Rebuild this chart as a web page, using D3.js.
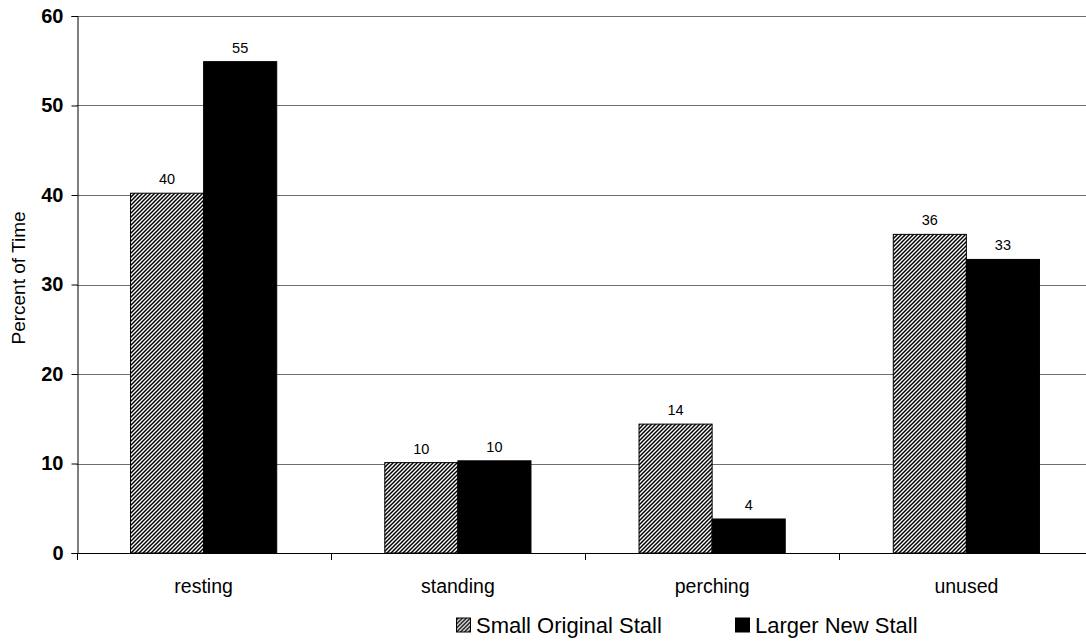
<!DOCTYPE html>
<html>
<head>
<meta charset="utf-8">
<script src="https://cdn.jsdelivr.net/npm/d3@7"></script>
<style>
  html, body { margin: 0; padding: 0; background: #fff; }
  svg { display: block; font-family: "Liberation Sans", Arial, sans-serif; }
</style>
</head>
<body>
<svg id="chart" width="1086" height="641"></svg>
<script>
// Time budget per stall behaviour
const categories = ["resting", "standing", "perching", "unused"];
const seriesNames = ["Small Original Stall", "Larger New Stall"];
const smallStall = [40.2, 10.1, 14.4, 35.6];
const largerStall = [54.9, 10.3, 3.8, 32.8];
const yTicks = [0, 10, 20, 30, 40, 50, 60];

const svg = d3.select("#chart");
const margin = { left: 76.5, top: 16, right: -7.5, bottom: 88 };
const W = 1086, H = 641;
const x0 = margin.left, x1 = W - margin.right;
const yTop = margin.top, yBot = H - margin.bottom;

// fine "/" hatch for the first series, 4px horizontal period
const defs = svg.append("defs");
const pat = defs.append("pattern")
  .attr("id", "hatch")
  .attr("patternUnits", "userSpaceOnUse")
  .attr("width", 4).attr("height", 4);
pat.append("rect").attr("width", 4).attr("height", 4).attr("fill", "#fff");
pat.append("path")
  .attr("d", "M-1,1 L1,-1 M0,4 L4,0 M3,5 L5,3")
  .attr("stroke", "#000")
  .attr("stroke-width", 1.5);

const x = d3.scaleBand().domain(categories).range([x0, x1]).paddingInner(0).paddingOuter(0);
const y = d3.scaleLinear().domain([0, 60]).range([yBot, yTop]);

// group layout: two bars take ~57.5% of each category slot
const groupFrac = 0.575;
const xs = d3.scaleBand().domain([0, 1])
  .range([0, x.bandwidth() * groupFrac]).padding(0);
const groupOffset = x.bandwidth() * (1 - groupFrac) / 2;

// gridlines
svg.append("g")
  .selectAll("line")
  .data(yTicks.filter(d => d > 0))
  .join("line")
  .attr("x1", x0).attr("x2", x1)
  .attr("y1", d => Math.round(y(d)) + 0.5)
  .attr("y2", d => Math.round(y(d)) + 0.5)
  .attr("stroke", "#6e6e6e")
  .attr("stroke-width", 1);

const series = [
  { name: seriesNames[0], values: smallStall, fill: "url(#hatch)", stroke: "#000" },
  { name: seriesNames[1], values: largerStall, fill: "#000", stroke: "#000" }
];

series.forEach((s, i) => {
  svg.append("g")
    .selectAll("rect")
    .data(categories.map((c, k) => ({ c, v: s.values[k] })))
    .join("rect")
    .attr("x", d => x(d.c) + groupOffset + xs(i))
    .attr("width", xs.bandwidth())
    .attr("y", d => y(d.v))
    .attr("height", d => y(0) - y(d.v))
    .attr("fill", s.fill)
    .attr("stroke", s.stroke)
    .attr("stroke-width", 1);

  svg.append("g")
    .selectAll("text")
    .data(categories.map((c, k) => ({ c, v: s.values[k] })))
    .join("text")
    .attr("x", d => x(d.c) + groupOffset + xs(i) + xs.bandwidth() / 2)
    .attr("y", d => y(d.v) - 9)
    .attr("text-anchor", "middle")
    .attr("font-size", 14.5)
    .attr("fill", "#000")
    .text(d => d3.format(".0f")(d.v));
});

// y axis
const yAxis = d3.axisLeft(y).tickValues(yTicks).tickSize(6).tickPadding(8);
const gy = svg.append("g")
  .attr("transform", `translate(${Math.round(x0) + 0.5},0)`)
  .call(yAxis);
gy.select(".domain").attr("stroke", "#000");
gy.selectAll(".tick line").attr("stroke", "#000");
gy.selectAll(".tick text")
  .attr("font-size", 20)
  .attr("font-weight", "bold")
  .attr("font-family", "Liberation Sans, Arial, sans-serif")
  .attr("fill", "#000");

// x axis (ticks at category boundaries)
const boundaries = categories.map(c => x(c)).concat([x(categories[categories.length - 1]) + x.bandwidth()]);
const gx = svg.append("g");
gx.append("line")
  .attr("x1", x0).attr("x2", x1)
  .attr("y1", Math.round(yBot) + 0.5).attr("y2", Math.round(yBot) + 0.5)
  .attr("stroke", "#000");
gx.selectAll("line.tk")
  .data(boundaries)
  .join("line")
  .attr("class", "tk")
  .attr("x1", d => Math.round(d) + 0.5).attr("x2", d => Math.round(d) + 0.5)
  .attr("y1", Math.round(yBot)).attr("y2", Math.round(yBot) + 7)
  .attr("stroke", "#000");
gx.selectAll("text")
  .data(categories)
  .join("text")
  .attr("x", d => x(d) + x.bandwidth() / 2)
  .attr("y", yBot + 40)
  .attr("text-anchor", "middle")
  .attr("font-size", 19.5)
  .attr("fill", "#000")
  .text(d => d);

// y axis title
svg.append("text")
  .attr("transform", `translate(25,278) rotate(-90)`)
  .attr("text-anchor", "middle")
  .attr("font-size", 19)
  .attr("fill", "#000")
  .text("Percent of Time");

// legend
const legend = svg.append("g").attr("transform", "translate(0,632.5)");
const legendItems = [
  { name: seriesNames[0], fill: "url(#hatch)", x: 456 },
  { name: seriesNames[1], fill: "#000", x: 735 }
];
legendItems.forEach(it => {
  legend.append("rect")
    .attr("x", it.x + 0.5).attr("y", -14.5)
    .attr("width", 14).attr("height", 14)
    .attr("fill", it.fill)
    .attr("stroke", "#000");
  legend.append("text")
    .attr("x", it.x + 20)
    .attr("y", 0)
    .attr("font-size", 22)
    .attr("fill", "#000")
    .text(it.name);
});
</script>
</body>
</html>
